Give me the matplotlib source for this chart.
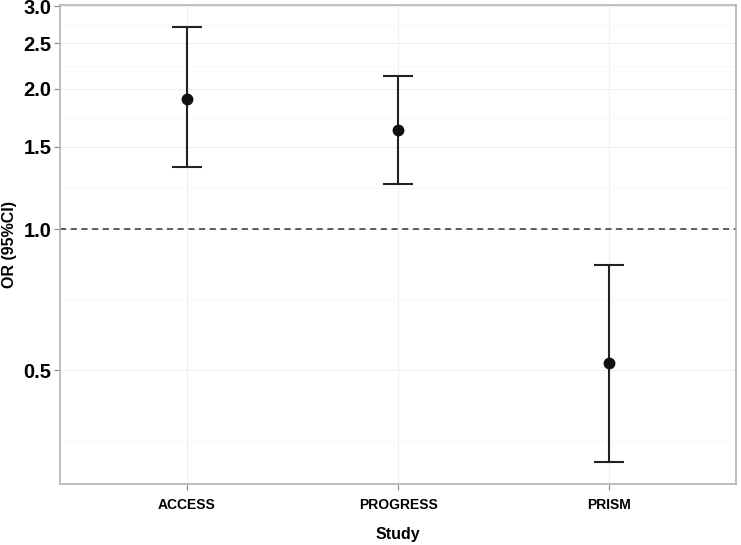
import matplotlib
matplotlib.use("Agg")
import matplotlib.pyplot as plt
import numpy as np
from matplotlib.ticker import FixedLocator, FixedFormatter, NullFormatter

studies = ["ACCESS", "PROGRESS", "PRISM"]
or_vals = [1.90, 1.63, 0.517]
ci_low = [1.36, 1.25, 0.318]
ci_high = [2.71, 2.13, 0.838]
y_ticks = [0.5, 1.0, 1.5, 2.0, 2.5, 3.0]
y_tick_labels = ["0.5", "1.0", "1.5", "2.0", "2.5", "3.0"]

plt.rcParams['font.family'] = ['Liberation Sans', 'DejaVu Sans']

fig = plt.figure(figsize=(7.41, 5.45), dpi=100)
W, H = 741, 545
ax = fig.add_axes([60 / W, 1 - 484 / H, (736 - 60) / W, (484 - 5) / H])

x = np.arange(1, len(studies) + 1)
ax.set_yscale('log')

# grid (major + minor at log midpoints)
lt = np.log(y_ticks)
minor = list(np.exp((lt[:-1] + lt[1:]) / 2)) + [np.exp(lt[0] - (lt[1] - lt[0]) / 2)]
ax.yaxis.set_major_locator(FixedLocator(y_ticks))
ax.yaxis.set_major_formatter(FixedFormatter(y_tick_labels))
ax.yaxis.set_minor_locator(FixedLocator(minor))
ax.yaxis.set_minor_formatter(NullFormatter())
ax.grid(True, which='major', color='#efefef', linewidth=0.8)
ax.grid(True, which='minor', axis='y', color='#f6f6f6', linewidth=0.5)
ax.set_axisbelow(True)

ax.axhline(1.0, color='#333333', linestyle=(0, (4, 3)), linewidth=1.1, zorder=2)

yerr = [np.array(or_vals) - np.array(ci_low), np.array(ci_high) - np.array(or_vals)]
ax.errorbar(x, or_vals, yerr=yerr, fmt='o', color='#111111', ecolor='#222222',
            elinewidth=1.5, capsize=11, capthick=1.5, markersize=7.5, zorder=3)

lo, hi = np.log(min(ci_low)), np.log(max(ci_high))
pad = 0.05 * (hi - lo)
ax.set_ylim(np.exp(lo - pad), np.exp(hi + pad))
ax.set_xlim(0.4, len(studies) + 0.6)
ax.set_xticks(x)
ax.set_xticklabels(studies)

for s in ax.spines.values():
    s.set_color('#b3b3b3')
    s.set_linewidth(1.2)

ax.tick_params(axis='y', which='major', labelsize=14.5, colors='#888888', labelcolor='black',
               length=4, width=0.8, pad=2)
ax.tick_params(axis='y', which='minor', length=0)
ax.tick_params(axis='x', labelsize=10, colors='#888888', labelcolor='black', length=4,
               width=0.8, pad=6)
for lab in ax.get_yticklabels() + ax.get_xticklabels():
    lab.set_fontweight('bold')

ax.set_xlabel("Study", fontsize=11.5, fontweight='bold', va='center')
ax.xaxis.set_label_coords(0.5, -(535 - 484) / 479)
ax.set_ylabel("OR (95%CI)", fontsize=11.5, fontweight='bold', va='center')
ax.yaxis.set_label_coords(-(60 - 10) / 676, 0.5)

fig.savefig("out.png", dpi=100)
